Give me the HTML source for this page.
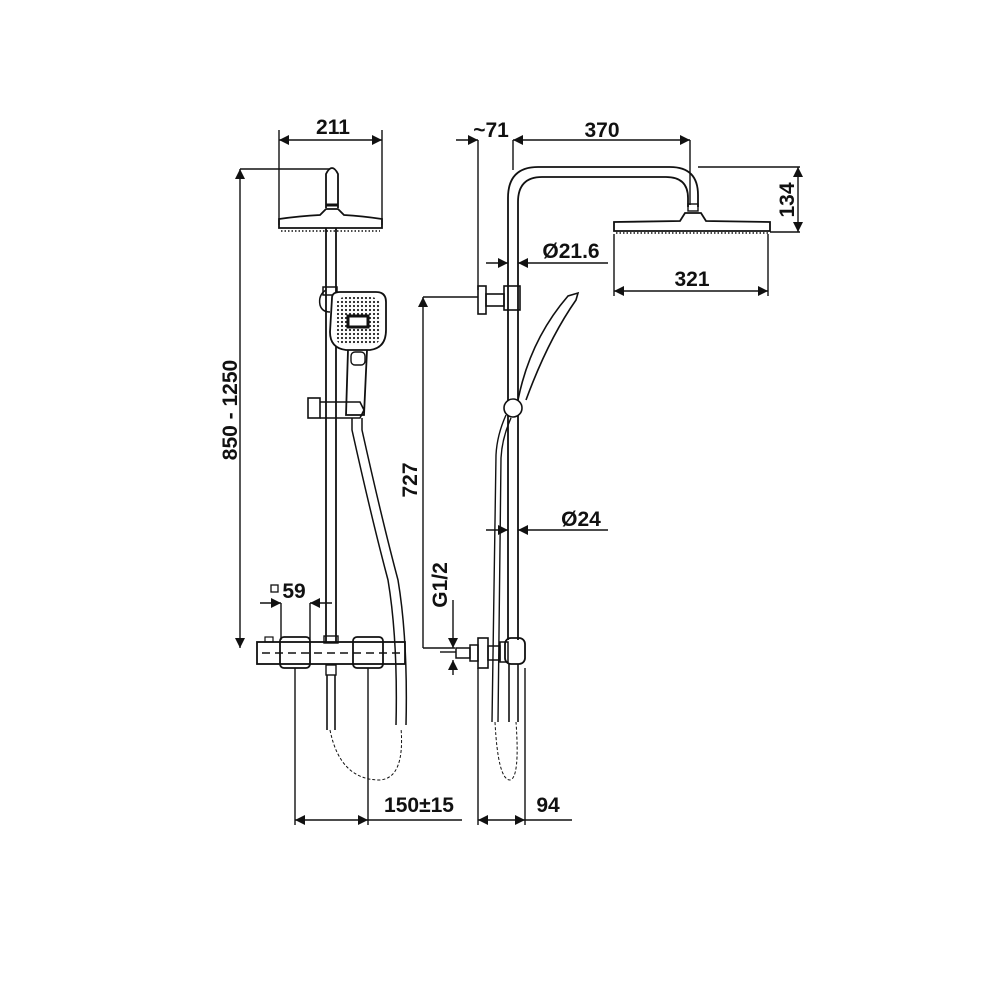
<!DOCTYPE html>
<html><head><meta charset="utf-8"><style>
html,body{margin:0;padding:0;background:#fff;}
svg{display:block;}
text{font-family:"Liberation Sans",Arial,sans-serif;font-weight:bold;font-size:21px;fill:#111;}
</style></head><body>
<svg width="1000" height="1000" viewBox="0 0 1000 1000" xmlns="http://www.w3.org/2000/svg">
<defs>
<marker id="a" viewBox="0 0 10 10" refX="10" refY="5" markerWidth="20" markerHeight="10" markerUnits="userSpaceOnUse" orient="auto-start-reverse"><path d="M0,0 L10,5 L0,10 z" fill="#111"/></marker>
<pattern id="dots" width="4" height="4" patternUnits="userSpaceOnUse"><circle cx="2" cy="2" r="1.1" fill="#222"/></pattern>
</defs>
<g fill="none" stroke="#111" stroke-width="1.4">
<!-- LEFT VIEW -->
<line x1="279" y1="130" x2="279" y2="225"/><line x1="382" y1="130" x2="382" y2="225"/>
<line x1="279" y1="140" x2="382" y2="140" marker-start="url(#a)" marker-end="url(#a)"/>
<line x1="240" y1="169" x2="330" y2="169"/>
<line x1="240" y1="169" x2="240" y2="648" marker-start="url(#a)" marker-end="url(#a)"/>
<path d="M326,208 L326,174 Q332,162 338,174 L338,208" stroke-width="1.8"/>
<line x1="326" y1="205" x2="338" y2="205" stroke-width="3"/>
<path d="M279,228 L279,219 Q300,216 320,215 L326,209 L338,209 L344,215 Q362,216 382,219 L382,228 Z" stroke-width="1.8"/>
<line x1="281" y1="231" x2="380" y2="231" stroke-dasharray="1.5 2"/>
<line x1="326" y1="228" x2="326" y2="642" stroke-width="1.8"/><line x1="336" y1="228" x2="336" y2="642" stroke-width="1.8"/>
<path d="M326,290 Q318,295 320,305 Q322,312 330,312" stroke-width="1.5"/>
<rect x="323" y="287" width="14" height="8" stroke-width="1.5"/>
<path d="M332,298 Q332,292 340,292 L376,292 Q386,292 386,302 L386,330 Q386,348 370,350 L346,350 Q330,348 330,332 Z" stroke-width="1.8" fill="#fff"/>
<rect x="335" y="297" width="46" height="48" rx="10" fill="url(#dots)" stroke="none"/>
<rect x="348" y="316" width="20" height="11" fill="#fff" stroke="#111" stroke-width="3"/>
<path d="M348,350 L346,415 L364,415 L367,350" stroke-width="1.8"/>
<rect x="351" y="352" width="14" height="13" rx="4" stroke-width="1.4"/>
<rect x="308" y="398" width="12" height="20" stroke-width="1.6"/>
<path d="M320,402 L360,402 L364,410 L360,418 L320,418" stroke-width="1.6"/>
<path d="M352,418 L352,430 Q372,520 388,580 Q398,640 396,725" stroke-width="1.5"/>
<path d="M362,418 L362,430 Q382,520 398,580 Q408,640 406,725" stroke-width="1.5"/>
<rect x="257" y="642" width="148" height="22" stroke-width="1.8"/>
<rect x="280" y="637" width="30" height="31" rx="4" stroke-width="1.8"/>
<rect x="353" y="637" width="30" height="31" rx="4" stroke-width="1.8"/>
<line x1="262" y1="653" x2="400" y2="653" stroke-dasharray="8 5"/>
<rect x="265" y="637" width="8" height="5" stroke-width="1.2"/>
<rect x="324" y="636" width="14" height="7" stroke-width="1.4"/>
<rect x="326" y="665" width="10" height="10" stroke-width="1.4"/>
<line x1="327" y1="675" x2="327" y2="730" stroke-width="1.6"/><line x1="335" y1="675" x2="335" y2="730" stroke-width="1.6"/>
<path d="M330,730 Q340,780 380,780 Q405,778 401,728" stroke-dasharray="3 2" stroke-width="1"/>
<line x1="281" y1="603" x2="281" y2="640"/><line x1="310" y1="603" x2="310" y2="640"/>
<line x1="260" y1="603" x2="281" y2="603" marker-end="url(#a)"/>
<line x1="332" y1="603" x2="310" y2="603" marker-end="url(#a)"/>
<rect x="271" y="585" width="7" height="7" stroke-width="1.3"/>
<line x1="295" y1="668" x2="295" y2="825"/><line x1="368" y1="668" x2="368" y2="825"/>
<line x1="295" y1="820" x2="368" y2="820" marker-start="url(#a)" marker-end="url(#a)"/>
<line x1="368" y1="820" x2="462" y2="820"/>

<!-- RIGHT VIEW -->
<path d="M508,640 L508,198 Q508,167 538,167 L670,167 Q698,167 698,195 L698,207" stroke-width="1.8"/>
<path d="M518,640 L518,202 Q518,177 542,177 L666,177 Q688,177 688,198 L688,207" stroke-width="1.8"/>
<rect x="688" y="204" width="10" height="7" stroke-width="1.4"/>
<path d="M614,231 L614,222 L680,221 L685,213 L701,213 L706,221 L770,222 L770,231 Z" stroke-width="1.8"/>
<line x1="616" y1="233" x2="768" y2="233" stroke-dasharray="1.5 2"/>
<line x1="513" y1="140" x2="690" y2="140" marker-start="url(#a)" marker-end="url(#a)"/>
<line x1="690" y1="140" x2="690" y2="205"/><line x1="513" y1="140" x2="513" y2="170"/>
<line x1="456" y1="140" x2="478" y2="140" marker-end="url(#a)"/>
<line x1="478" y1="140" x2="478" y2="290"/>
<line x1="698" y1="167" x2="800" y2="167"/><line x1="770" y1="232" x2="800" y2="232"/>
<line x1="798" y1="167" x2="798" y2="232" marker-start="url(#a)" marker-end="url(#a)"/>
<line x1="486" y1="263" x2="508" y2="263" marker-end="url(#a)"/>
<line x1="608" y1="263" x2="518" y2="263" marker-end="url(#a)"/>
<line x1="614" y1="234" x2="614" y2="296"/><line x1="768" y1="234" x2="768" y2="296"/>
<line x1="614" y1="291" x2="768" y2="291" marker-start="url(#a)" marker-end="url(#a)"/>
<rect x="478" y="286" width="8" height="28" stroke-width="1.6"/>
<rect x="486" y="294" width="18" height="12" stroke-width="1.6"/>
<rect x="504" y="286" width="16" height="24" stroke-width="1.6"/>
<line x1="423" y1="297" x2="478" y2="297"/>
<line x1="423" y1="297" x2="423" y2="648" marker-start="url(#a)"/>
<line x1="423" y1="648" x2="455" y2="648"/>
<path d="M518,400 Q530,340 568,296 L578,293 L576,300 Q548,340 526,400" stroke-width="1.6"/>
<circle cx="513" cy="408" r="9" stroke-width="1.6" fill="#fff"/>
<path d="M506,415 Q497,435 496,455 L492,722" stroke-width="1.4"/>
<path d="M511,418 Q502,438 501,458 L498,722" stroke-width="1.4"/>
<line x1="486" y1="530" x2="508" y2="530" marker-end="url(#a)"/>
<line x1="608" y1="530" x2="518" y2="530" marker-end="url(#a)"/>
<line x1="453" y1="600" x2="453" y2="648" marker-end="url(#a)"/>
<line x1="453" y1="675" x2="453" y2="660" marker-end="url(#a)"/>
<line x1="440" y1="652" x2="456" y2="652"/>
<rect x="456" y="648" width="14" height="10" stroke-width="1.5"/>
<rect x="470" y="645" width="8" height="16" stroke-width="1.5"/>
<rect x="478" y="638" width="10" height="30" stroke-width="1.6"/>
<rect x="488" y="646" width="12" height="14" stroke-width="1.5"/>
<rect x="500" y="642" width="8" height="20" stroke-width="1.5"/>
<rect x="505" y="638" width="20" height="26" rx="6" stroke-width="1.8"/>
<line x1="509" y1="664" x2="509" y2="722" stroke-width="1.6"/><line x1="518" y1="664" x2="518" y2="722" stroke-width="1.6"/>
<path d="M495,722 Q498,780 510,780 Q520,778 516,722" stroke-dasharray="3 2" stroke-width="1"/>
<line x1="478" y1="668" x2="478" y2="825"/><line x1="525" y1="668" x2="525" y2="825"/>
<line x1="478" y1="820" x2="525" y2="820" marker-start="url(#a)" marker-end="url(#a)"/>
<line x1="525" y1="820" x2="572" y2="820"/>
</g>
<text x="333" y="134" text-anchor="middle">211</text>
<text x="491" y="137" text-anchor="middle">~71</text>
<text x="602" y="137" text-anchor="middle">370</text>
<text x="571" y="258" text-anchor="middle">Ø21.6</text>
<text x="692" y="286" text-anchor="middle">321</text>
<text x="581" y="526" text-anchor="middle">Ø24</text>
<text x="294" y="598" text-anchor="middle">59</text>
<text x="419" y="812" text-anchor="middle">150±15</text>
<text x="548" y="812" text-anchor="middle">94</text>
<text transform="translate(237,410) rotate(-90)" text-anchor="middle">850 - 1250</text>
<text transform="translate(417,480) rotate(-90)" text-anchor="middle">727</text>
<text transform="translate(447,585) rotate(-90)" text-anchor="middle">G1/2</text>
<text transform="translate(794,200) rotate(-90)" text-anchor="middle">134</text>
</svg>
</body></html>
